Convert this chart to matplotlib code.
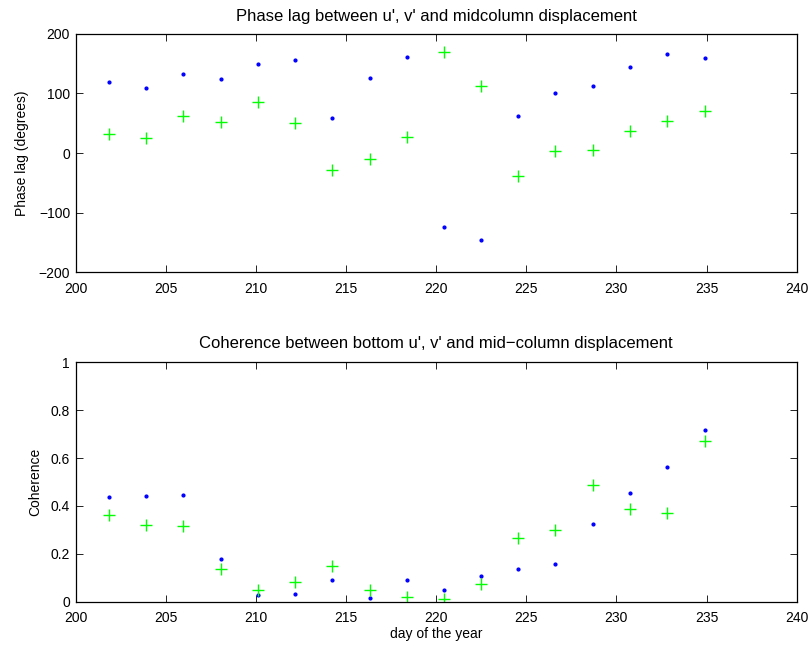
import numpy as np
import matplotlib
matplotlib.use('Agg')
import matplotlib.pyplot as plt

plt.rcParams['font.family'] = ['Liberation Sans', 'DejaVu Sans']
plt.rcParams['font.size'] = 10

# Analysis windows (day of the year)
days = [201.85, 203.9, 205.97, 208.04, 210.09, 212.16, 214.23, 216.31, 218.36,
        220.43, 222.48, 224.55, 226.62, 228.69, 230.74, 232.81, 234.89]

# Phase lag (degrees) of u' and v' against midcolumn displacement
phase_u = [118.5, 109.6, 133, 124, 149.8, 155.8, 58.8, 125.7, 161.5,
           -124.2, -145.4, 61.6, 101.2, 113, 143.6, 166.5, 159.8]
phase_v = [32.6, 25.3, 62.8, 52.7, 85, 51, -28.3, -9.3, 26.4,
           169.2, 113, -38.3, 4.2, 5.2, 36.5, 53.2, 71.1]

# Coherence of bottom u' and v' with mid-column displacement
coh_u = [0.436, 0.441, 0.446, 0.177, 0.028, 0.031, 0.092, 0.017, 0.092,
         0.049, 0.107, 0.137, 0.156, 0.323, 0.453, 0.563, 0.718]
coh_v = [0.363, 0.319, 0.316, 0.137, 0.049, 0.084, 0.148, 0.049, 0.021,
         0.010, 0.073, 0.267, 0.298, 0.486, 0.386, 0.369, 0.671]


def matlab_axes(ax):
    for s in ax.spines.values():
        s.set_linewidth(0.9)
    ax.tick_params(direction='in', top=True, right=True, length=5, width=0.6)
    ax.tick_params(axis='x', pad=7)
    ax.tick_params(axis='y', pad=4)
    ax.set_xlim(200, 240)
    ax.set_xticks(np.arange(200, 241, 5))


fig = plt.figure(figsize=(8.11, 6.47), dpi=100)

ax1 = fig.add_axes([0.0933, 0.579, 0.889, 0.369])
ax1.plot(days, phase_u, '.', color='#0000ff', markersize=4)
ax1.plot(days, phase_v, '+', color='#00ff00', markersize=8, markeredgewidth=1)
matlab_axes(ax1)
ax1.set_ylim(-200, 200)
ax1.set_yticks([-200, -100, 0, 100, 200])
ax1.set_ylabel('Phase lag (degrees)', labelpad=7)
ax1.set_title("Phase lag between u', v' and midcolumn displacement", pad=9)

ax2 = fig.add_axes([0.0933, 0.070, 0.889, 0.370])
ax2.plot(days, coh_u, '.', color='#0000ff', markersize=4)
ax2.plot(days, coh_v, '+', color='#00ff00', markersize=8, markeredgewidth=1)
matlab_axes(ax2)
ax2.set_ylim(0, 1)
ax2.set_yticks([0, 0.2, 0.4, 0.6, 0.8, 1])
ax2.set_yticklabels(['0', '0.2', '0.4', '0.6', '0.8', '1'])
ax2.set_ylabel('Coherence', labelpad=6)
ax2.set_xlabel('day of the year', labelpad=1)
ax2.set_title("Coherence between bottom u', v' and mid\u2212column displacement", pad=10)

fig.savefig('out.png', dpi=100)
